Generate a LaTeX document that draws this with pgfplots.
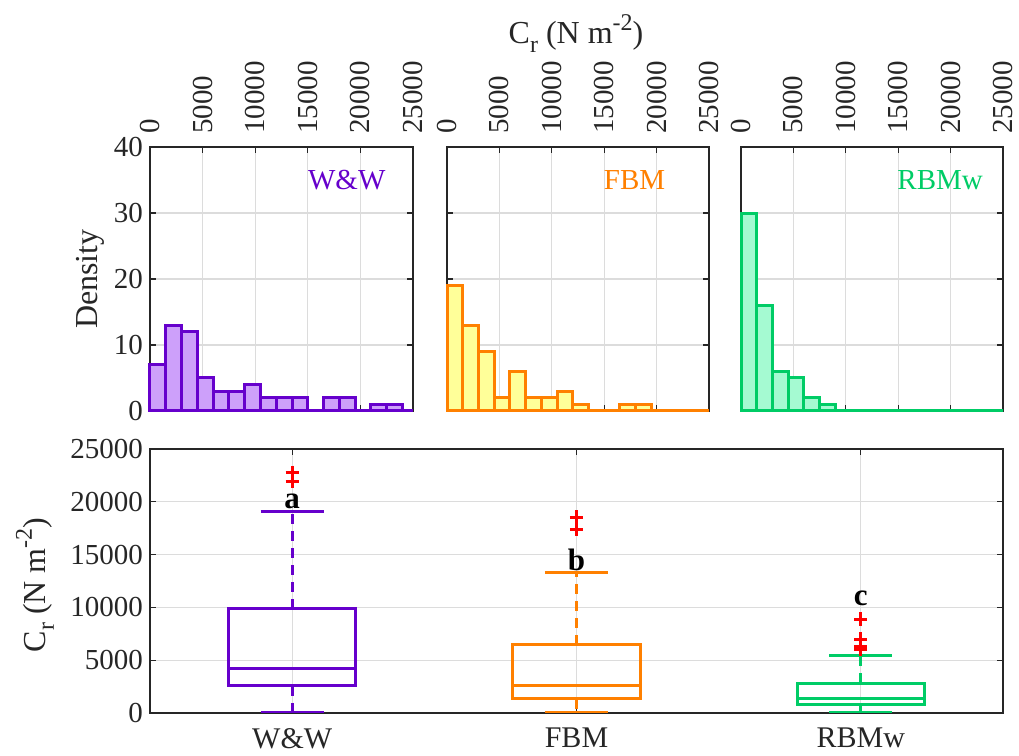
\documentclass[border=0pt]{standalone}
\usepackage{fontspec}
\setmainfont{Liberation Serif}
\usepackage{pgfplots}
\usepackage{pgfplotstable}
\pgfplotsset{compat=1.18}
\usepgfplotslibrary{statistics}

\definecolor{ww}{RGB}{102,0,204}
\definecolor{wwfill}{RGB}{205,160,250}
\definecolor{fbm}{RGB}{255,128,0}
\definecolor{fbmfill}{RGB}{255,255,153}
\definecolor{rbm}{RGB}{0,204,102}
\definecolor{rbmfill}{RGB}{165,250,210}
\definecolor{axgray}{RGB}{38,38,38}
\definecolor{gridgray}{RGB}{220,220,220}

\pgfplotstableread{
x y
0 7
1500 13
3000 12
4500 5
6000 3
7500 3
9000 4
10500 2
12000 2
13500 2
15000 0
16500 2
18000 2
19500 0
21000 1
22500 1
24000 0
25000 0
}\wwdata

\pgfplotstableread{
x y
0 19
1500 13
3000 9
4500 2
6000 6
7500 2
9000 2
10500 3
12000 1
13500 0
15000 0
16500 1
18000 1
19500 0
21000 0
22500 0
24000 0
25000 0
}\fbmdata

\pgfplotstableread{
x y
0 30
1500 16
3000 6
4500 5
6000 2
7500 1
9000 0
10500 0
12000 0
13500 0
15000 0
16500 0
18000 0
19500 0
21000 0
22500 0
24000 0
25000 0
}\rbmdata

\pgfplotsset{
  mystyle/.style={
    scale only axis, anchor=south west,
    axis line style={axgray, line width=0.6pt},
    tick style={axgray, line width=0.6pt},
    tick align=inside, major tick length=3pt,
    grid=major, major grid style={gridgray, line width=0.6pt},
    tick label style={font=\fontsize{14.5}{16}\selectfont, text=axgray},
    /pgf/number format/assume math mode=true,
    /pgf/number format/1000 sep={},
    scaled ticks=false,
  },
  histstyle/.style={mystyle, width=131pt, height=132pt,
    xmin=0, xmax=25000, ymin=0, ymax=40, clip=false,
    xtick={0,5000,...,25000}, ytick={0,10,...,40},
    xticklabel pos=upper,
    xticklabel style={rotate=90, anchor=west},
    xticklabel shift=3pt,
  },
  hbar/.style={ybar interval, line width=1.5pt},
}

\begin{document}
\begin{tikzpicture}
\path[use as bounding box] (0,0) rectangle (509.5pt,378pt);

\begin{axis}[histstyle, at={(75pt,172.5pt)}, width=131.5pt]
\addplot[hbar, fill=wwfill, draw=ww] table[x=x,y=y] {\wwdata};
\node[text=ww, font=\fontsize{14.5}{16}\selectfont] at (axis cs:18700,35) {W\&W};
\end{axis}

\begin{axis}[histstyle, at={(223.5pt,172.5pt)}, yticklabels={}]
\addplot[hbar, fill=fbmfill, draw=fbm] table[x=x,y=y] {\fbmdata};
\node[text=fbm, font=\fontsize{14.5}{16}\selectfont] at (axis cs:17900,35) {FBM};
\end{axis}

\begin{axis}[histstyle, at={(370.5pt,172.5pt)}, yticklabels={}]
\addplot[hbar, fill=rbmfill, draw=rbm] table[x=x,y=y] {\rbmdata};
\node[text=rbm, font=\fontsize{14.5}{16}\selectfont] at (axis cs:19000,35) {RBMw};
\end{axis}

\begin{axis}[mystyle, at={(75pt,21.5pt)}, width=426.5pt, height=132pt,
  xmin=0.5, xmax=3.5, ymin=0, ymax=25000,
  xtick={1,2,3}, xticklabels={W\&W,FBM,RBMw},
  xticklabel style={font=\fontsize{15}{17}\selectfont},
  xticklabel shift=4pt,
  ytick={0,5000,...,25000},
  boxplot/draw direction=y,
  boxplot/box extend=0.447,
  boxplot/whisker extend=0.222,
  boxplot/draw/whisker/.code 2 args={
    \draw[dash pattern=on 5pt off 3.5pt] (boxplot cs:#1) -- (boxplot cs:#2);
    \draw (boxplot whisker cs:#2,0) -- (boxplot whisker cs:#2,1);
  },
  outl/.style={mark=+, mark size=3.3pt, mark options={draw=red, solid, line width=1.5pt}},
]
\addplot[ww, line width=1.5pt, outl, boxplot prepared={draw position=1,
  lower whisker=50, lower quartile=2560, median=4170, upper quartile=9850, upper whisker=19100}]
  coordinates {(0,21900) (0,22800)};
\addplot[fbm, line width=1.5pt, outl, boxplot prepared={draw position=2,
  lower whisker=50, lower quartile=1330, median=2560, upper quartile=6440, upper whisker=13350}]
  coordinates {(0,17420) (0,18560)};
\addplot[rbm, line width=1.5pt, outl, boxplot prepared={draw position=3,
  lower whisker=50, lower quartile=850, median=1420, upper quartile=2840, upper whisker=5400}]
  coordinates {(0,6000) (0,6300) (0,7000) (0,8900)};
\node[font=\fontsize{15.5}{17}\selectfont\bfseries] at (axis cs:1,20000) {a};
\node[font=\fontsize{15.5}{17}\selectfont\bfseries] at (axis cs:2,14500) {b};
\node[font=\fontsize{15.5}{17}\selectfont\bfseries] at (axis cs:3,10900) {c};
\end{axis}

\node[anchor=base, font=\fontsize{16}{18}\selectfont, text=axgray] at (288pt,356pt)
  {C\raisebox{-0.6ex}{\fontsize{12}{13}\selectfont r} (N m\raisebox{0.9ex}{\fontsize{12}{13}\selectfont -2})};
\node[rotate=90, font=\fontsize{16}{18}\selectfont, text=axgray] at (45pt,238.5pt) {Density};
\node[rotate=90, font=\fontsize{16}{18}\selectfont, text=axgray] at (17.5pt,85.5pt)
  {C\raisebox{-0.6ex}{\fontsize{12}{13}\selectfont r} (N m\raisebox{0.9ex}{\fontsize{12}{13}\selectfont -2})};
\end{tikzpicture}
\end{document}
